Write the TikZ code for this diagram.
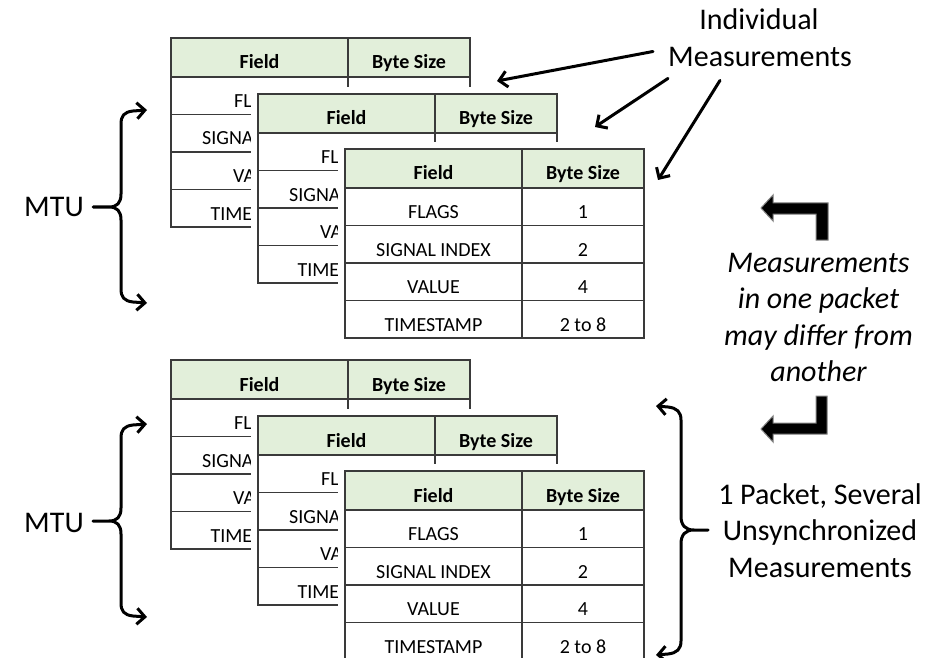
\documentclass[tikz,border=0pt]{standalone}
\usepackage{fontspec}
\setmainfont{Carlito}
\usetikzlibrary{arrows.meta}
\definecolor{hdrgreen}{HTML}{E2EFDA}
\definecolor{gridline}{HTML}{3A3A3A}
% table frame with header; #4 = macro that writes the row texts
\newcommand\mtab[4]{%
\begin{scope}[shift={(#1,#2)}]
\fill[white] (-7,-7) rectangle (306,196);
\fill[hdrgreen] (0,0) rectangle (299,39);
\draw[tline] (0,0) rectangle (299,189);
\foreach \yy in {39,76.5,114,151.5} \draw[tline] (0,\yy) -- (299,\yy);
\draw[tline] (177,0) -- (177,189);
\node[hd] (#3f) at (88.5,31) {Field};
\node[hd] (#3b) at (238,31) {Byte Size};
#4{#3}
\end{scope}}
\newcommand\frontrows[1]{%
\node[cell] (#1a1) at (88.5,69.5) {FLAGS};
\node[cell] (#1a2) at (88.5,107) {SIGNAL INDEX};
\node[cell] (#1a3) at (88.5,144.5) {VALUE};
\node[cell] (#1a4) at (88.5,182) {TIMESTAMP};
\node[cell] (#1b1) at (238,69.5) {1};
\node[cell] (#1b2) at (238,107) {2};
\node[cell] (#1b3) at (238,144.5) {4};
\node[cell] (#1b4) at (238,182) {2 to 8};}
\newcommand\backrows[1]{%
\node[cell] (#1a1) at (88.5,69.5) {FL\phantom{AGS}};
\node[cell] (#1a2) at (88.5,107) {SIGNA\phantom{L INDEX}};
\node[cell] (#1a3) at (88.5,144.5) {VA\phantom{LUE}};
\node[cell] (#1a4) at (88.5,182) {TIME\phantom{STAMP}};}
\begin{document}
\begin{tikzpicture}[x=1pt,y=-1pt,
  tline/.style={draw=gridline,line width=1.3pt},
  hd/.style={anchor=base,inner sep=0pt,font=\fontsize{20}{24}\selectfont\bfseries},
  cell/.style={anchor=base,inner sep=0pt,font=\fontsize{20}{24}\selectfont},
  big/.style={anchor=base,inner sep=0pt,font=\fontsize{30}{36}\selectfont},
  bigit/.style={anchor=base,inner sep=0pt,font=\fontsize{30}{36}\selectfont\itshape},
  bar/.style={line width=3pt,line cap=round,line join=round},
  barb/.tip={Straight Barb[length=8pt,width=16pt,line width=3pt]},
  bent/.style={fill=black,draw=black!50,line width=1pt,line join=miter}]
\useasboundingbox (0,0) rectangle (943,658);
\clip (0,0) rectangle (943,658);
\fill[white] (0,0) rectangle (943,658);
% top group
\mtab{171}{38}{ta}{\backrows}
\mtab{258}{94}{tb}{\backrows}
\mtab{345}{149}{tc}{\frontrows}
% bottom group
\mtab{171}{360}{ba}{\backrows}
\mtab{258}{416}{bb}{\backrows}
\mtab{345}{471}{bc}{\frontrows}
% texts
\node[big] (ind1) at (759,30) {Individual};
\node[big] (ind2) at (760,67) {Measurements};
\node[big] (mtu1) at (54,216) {MTU};
\node[big] (mtu2) at (54,532) {MTU};
\node[bigit] (d1) at (818.5,272) {Measurements};
\node[bigit] (d2) at (818.5,308.5) {in one packet};
\node[bigit] (d3) at (818.5,345) {may differ from};
\node[bigit] (d4) at (818.5,381.5) {another};
\node[big] (p1) at (820,504) {1 Packet, Several};
\node[big] (p2) at (820,540.5) {Unsynchronized};
\node[big] (p3) at (820,577) {Measurements};
% arrows from Individual Measurements
\coordinate (t1) at (497,81);
\coordinate (t2) at (595,127);
\coordinate (t3) at (658,180);
\draw[bar,-barb] ([shift={(-15,-6)}]ind2.west) -- (t1);
\draw[bar,-barb] ([shift={(0,11)}]ind2.south west) -- (t2);
\draw[bar,-barb] ([shift={(52,13)}]ind2.south west) -- (t3);
% left braces
\foreach \dy in {0,314} {
\draw[bar,barb-barb] (147,110+\dy) -- (133,111+\dy) .. controls (124,112+\dy) and (121,116+\dy) .. (121,124+\dy)
  -- (121,194+\dy) .. controls (121,203+\dy) and (117,207+\dy) .. (109,207+\dy) -- (93,207+\dy)
  -- (109,207+\dy) .. controls (117,207+\dy) and (121,211+\dy) .. (121,220+\dy)
  -- (121,289+\dy) .. controls (121,297+\dy) and (124,301+\dy) .. (133,302+\dy) -- (147,303+\dy);
}
% right brace
\draw[bar,barb-barb] (656,406) -- (668,407) .. controls (677,408) and (681,412) .. (681,420)
  -- (681,516) .. controls (681,525) and (685,530) .. (694,530) -- (708,530)
  -- (694,530) .. controls (685,530) and (681,535) .. (681,544)
  -- (681,641) .. controls (681,649) and (677,653) .. (668,654) -- (656,655);
% bent arrows
\draw[bent] (761,208) -- (773,195) -- (773,203) -- (828,203) -- (828,240) -- (816,240) -- (816,214) -- (773,214) -- (773,221) -- cycle;
\draw[bent] (761,429) -- (773,416) -- (773,423) -- (816,423) -- (816,396) -- (827,396) -- (827,434) -- (773,434) -- (773,442) -- cycle;
\end{tikzpicture}
\end{document}
